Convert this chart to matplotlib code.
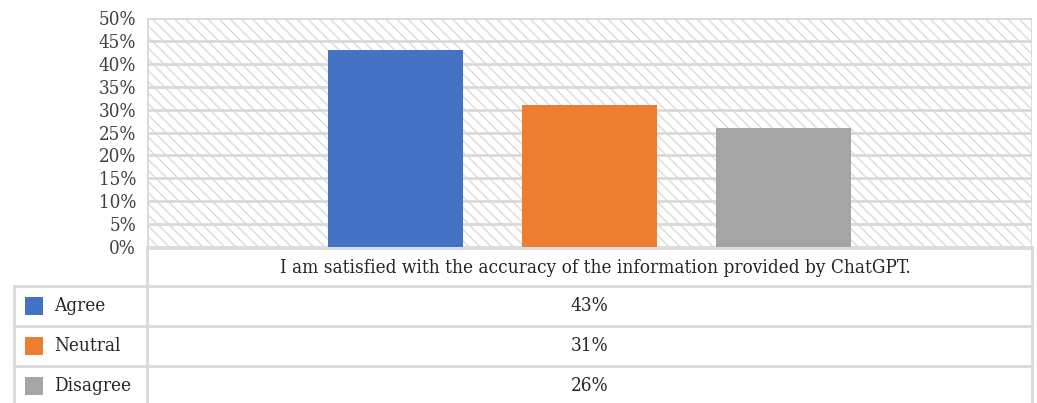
import matplotlib.pyplot as plt
from matplotlib.patches import Rectangle
from matplotlib.lines import Line2D

# data
category = "I am satisfied with the accuracy of the information provided by ChatGPT."
series = ["Agree", "Neutral", "Disagree"]
values = [43, 31, 26]
colors = ["#4472c4", "#ed7d31", "#a5a5a5"]
yticks = list(range(0, 55, 5))

W, H = 1037, 403
grid_c = "#d9d9d9"
plt.rcParams["font.family"] = ["DejaVu Serif"]
plt.rcParams["font.stretch"] = "condensed"
plt.rcParams["hatch.color"] = "#dadada"
plt.rcParams["hatch.linewidth"] = 1.0

fig = plt.figure(figsize=(W / 100, H / 100), dpi=100)

def fx(px):
    return px / W

def fy(py):
    return 1 - py / H

left, right, top, bottom = 147, 1032, 18, 247
ax = fig.add_axes([fx(left), fy(bottom), fx(right - left), fy(top) - fy(bottom)])

# hatched background
ax.add_patch(Rectangle((0, 0), 1, 1, transform=ax.transAxes, facecolor="white",
                       edgecolor="#dadada", lw=0, hatch="\\\\\\", zorder=0))

n = len(series)
bw = 135 / (right - left)
gap = 59 / (right - left)
start = 0.5 - (n * bw + (n - 1) * gap) / 2
for i, (s, v, c) in enumerate(zip(series, values, colors)):
    ax.bar(start + i * (bw + gap), v, width=bw, align="edge", color=c, zorder=3)

ax.set_xlim(0, 1)
ax.set_ylim(0, 50)
ax.set_yticks(yticks)
ax.set_yticklabels([f"{t}%" for t in yticks], fontsize=13.5, color="#404040")
ax.set_xticks([])
ax.tick_params(axis="y", length=0, pad=8)
for t in yticks:
    ax.axhline(t, color=grid_c, lw=2, zorder=1)
for sp in ax.spines.values():
    sp.set_visible(False)
ax.axvline(0, color=grid_c, lw=2, zorder=1)
ax.axvline(1, color=grid_c, lw=2, zorder=1)

# data table
rows = [286, 326, 366]
def hline(y, x0, x1):
    fig.add_artist(Line2D([fx(x0), fx(x1)], [fy(y), fy(y)], color=grid_c, lw=2))

def vline(x, y0, y1):
    fig.add_artist(Line2D([fx(x), fx(x)], [fy(y0), fy(y1)], color=grid_c, lw=2))

hline(bottom + 1, left, right)
for r in rows:
    hline(r, 14, right)
vline(14, rows[0], H)
vline(left, bottom, H)
vline(right, bottom, H)

fig.text(fx((left + right) / 2 + 6), fy(268), category, ha="center", va="center",
         fontsize=13.6, color="#262626")
for i, (s, v, c) in enumerate(zip(series, values, colors)):
    yc = rows[i] + 20
    fig.add_artist(Rectangle((fx(25), fy(yc + 9)), fx(18), fy(yc - 9) - fy(yc + 9),
                             transform=fig.transFigure, facecolor=c, lw=0))
    fig.text(fx(54), fy(yc), s, ha="left", va="center", fontsize=13.6, color="#262626")
    fig.text(fx((left + right) / 2), fy(yc), f"{v}%", ha="center", va="center",
             fontsize=13.6, color="#262626")

fig.savefig("out.png", dpi=100)
